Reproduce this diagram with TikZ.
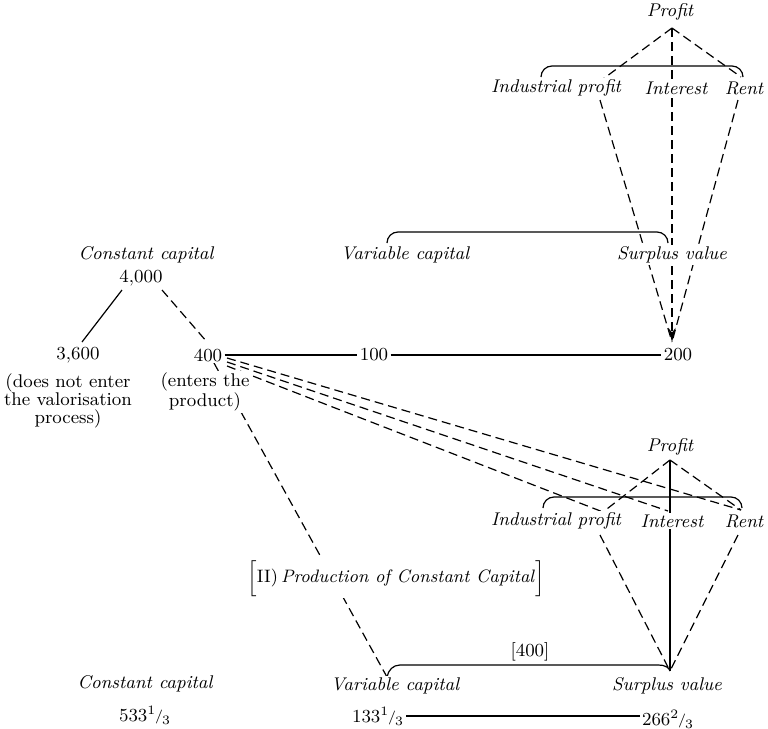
\documentclass[tikz,border=0pt]{standalone}
\usetikzlibrary{arrows.meta,backgrounds}
\newcommand\frc[2]{\textsuperscript{#1}\kern-.06em\raisebox{.2ex}{\scriptsize/}\kern-.06em\textsubscript{#2}}
\begin{document}
\begin{tikzpicture}[x=0.5pt,y=-0.5pt,
  lbl/.style={font=\fontsize{9.2}{9}\selectfont\itshape, inner sep=1pt, fill=white},
  num/.style={font=\fontsize{9.2}{9}\selectfont, inner sep=1pt, fill=white},
  ttl/.style={font=\fontsize{9}{10}\selectfont, inner sep=1pt, fill=white},
  dsh/.style={dash pattern=on 4.5pt off 2.5pt},
  ln/.style={line width=0.6pt},
  ]
\useasboundingbox (0,0) rectangle (768,729);
% ---------- top structure ----------
\node[lbl] (profA) at (670,12) {Profit};
\coordinate (apexA) at (672,28);
\node[lbl] (indA) at (556,88) {Industrial profit};
\node[lbl] (intA) at (676,88) {Interest};
\node[lbl] (rentA) at (744,88) {Rent};
\coordinate (indAtop) at (603,79);
\coordinate (rentAtop) at (741,77);
\coordinate (indAbot) at (600,100);
\coordinate (rentAbot) at (738,100);
\node[lbl] (varA) at (405,255) {Variable capital};
\node[lbl] (svA) at (672,255) {Surplus value};
\coordinate (tipA) at (672,342);
\node[num] (n200) at (678,355) {200};
\node[num] (n100) at (374,355) {100};
% ---------- left tree ----------
\node[lbl] (cc) at (146,255) {Constant capital};
\node[num] (n4000) at (141,278) {4,000};
\node[num] (n3600) at (78,355) {3,600};
\node[num] (n400) at (208,355) {400};
\node[num, align=center] (note1) at (68,401) {(does not enter\\the valorisation\\process)};
\node[num, align=center] (note2) at (205,392) {(enters the\\product)};
\coordinate (t1) at (122,290);
\coordinate (t2) at (82,342);
\coordinate (t3) at (162,290);
\coordinate (t4) at (207,342);
\coordinate (f1) at (227,358);
\coordinate (f2) at (227,362);
\coordinate (f3) at (227,366);
\coordinate (f4) at (214,363);
% ---------- bottom structure ----------
\node[lbl] (profB) at (670,447) {Profit};
\coordinate (apexB) at (670,460);
\node[lbl] (indB) at (556,521) {Industrial profit};
\node[lbl] (intB) at (672,521) {Interest};
\node[lbl] (rentB) at (744,521) {Rent};
\coordinate (indBtop) at (603,512);
\coordinate (intBtop) at (668,511);
\coordinate (rentBtop) at (741,510);
\coordinate (indBbot) at (600,535);
\coordinate (rentBbot) at (738,535);
\node[ttl] (title) at (396,578) {$\Big[$II)\,\textit{Production of Constant Capital}$\Big]$};
\coordinate (V) at (670,671);
\coordinate (hook) at (387,677);
\node[num] (b400) at (530,652) {[400]};
\node[lbl] (cc2) at (145,684) {Constant capital};
\node[num] (n533) at (145,715) {533\frc{1}{3}};
\node[lbl] (varB) at (395,686) {Variable capital};
\node[lbl] (svB) at (667,686) {Surplus value};
\node[num] (n133) at (378,716) {133\frc{1}{3}};
\node[num] (n266) at (668,719) {266\frc{2}{3}};
% ---------- connectors ----------
\begin{scope}[on background layer]
\fill[white] (0,0) rectangle (768,729);
% top
\draw[ln,dsh] (apexA) -- (indAtop);
\draw[ln,dsh] (apexA) -- (rentAtop);
\draw[ln,dsh,-{Stealth[length=7pt,width=3.5pt]}] (apexA) -- (tipA);
\draw[ln,dsh] (indAbot) -- (tipA);
\draw[ln,dsh] (rentAbot) -- (tipA);
\draw[ln] (541,77) to[out=90,in=180] (552,66) -- (732,66) to[out=0,in=90] (743,77);
\draw[ln] (387,243) to[out=90,in=180] (398,232) -- (657,232) to[out=0,in=90] (668,243);
\draw[ln] (n400.east) -- (n400.east -| n100.west);
\draw[ln] (n100.east) -- (n100.east -| n200.west);
% tree
\draw[ln] (t1) -- (t2);
\draw[ln,dsh] (t3) -- (t4);
\draw[ln,dsh] (f1) -- (rentBtop);
\draw[ln,dsh] (f2) -- (intBtop);
\draw[ln,dsh] (f3) -- (indBtop);
\draw[ln,dsh] (f4) -- (hook);
% bottom
\draw[ln,dsh] (apexB) -- (indBtop);
\draw[ln,dsh] (apexB) -- (rentBtop);
\draw[ln] (apexB) -- (V);
\draw[ln,dsh] (indBbot) -- (V);
\draw[ln,dsh] (rentBbot) -- (V);
\draw[ln] (543,508) to[out=90,in=180] (554,497) -- (731,497) to[out=0,in=90] (742,508);
\draw[ln] (hook) to[out=80,in=180] (400,665) -- (652,665) to[out=0,in=110] (V);
\draw[ln] (n133.east) -- (n133.east -| n266.west);
\end{scope}
\end{tikzpicture}
\end{document}
